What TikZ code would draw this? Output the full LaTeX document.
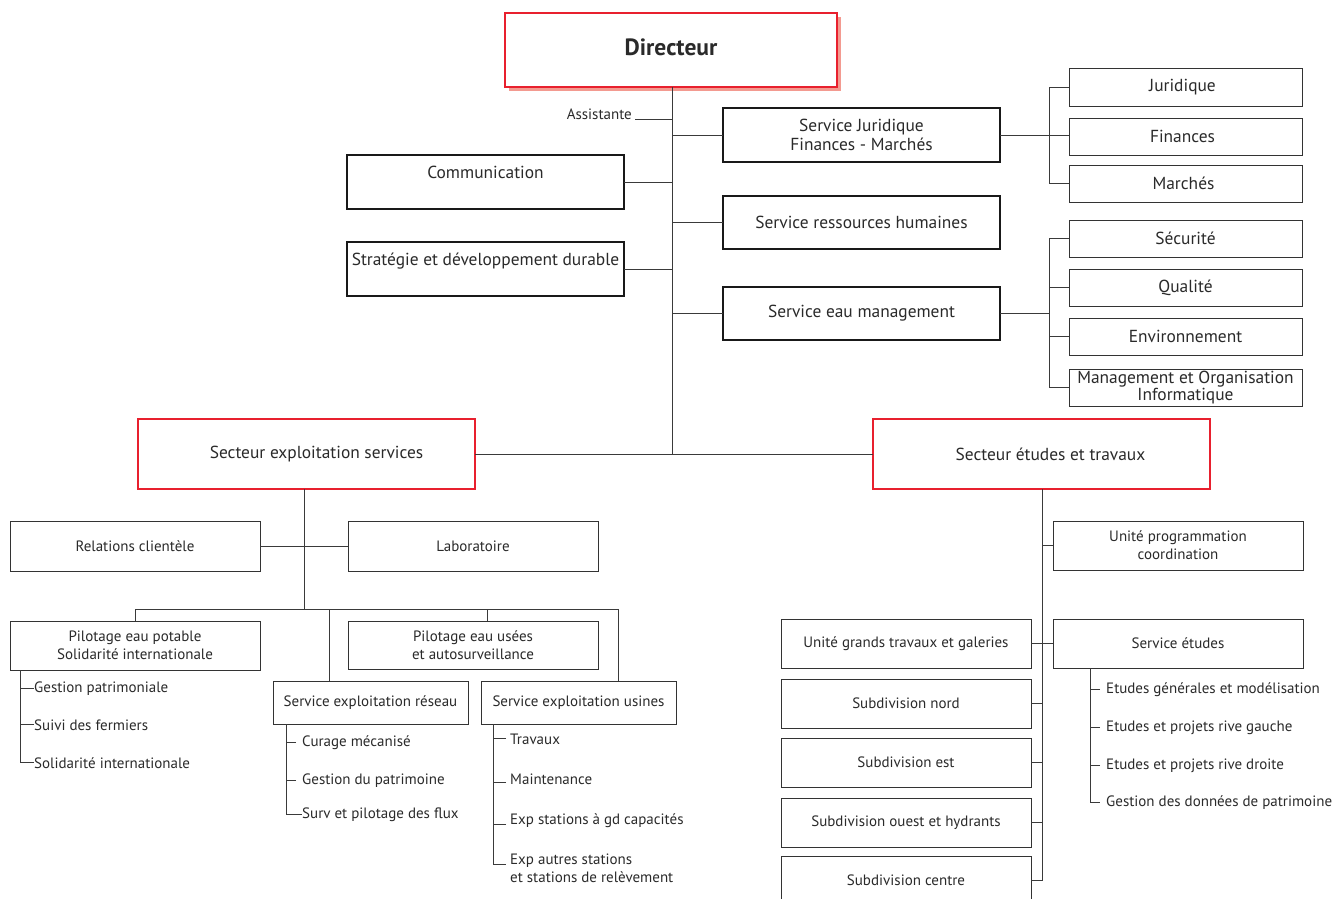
\documentclass[tikz,border=0pt]{standalone}
\usepackage{fontspec}
\setmainfont{PT Sans}
\usetikzlibrary{shadows}
\definecolor{redc}{HTML}{E8202E}
\definecolor{shc}{HTML}{F39A90}
\definecolor{txt}{HTML}{2A2A2A}
\definecolor{linec}{HTML}{3A3A3A}
\newcommand{\fA}{\fontsize{17.4}{19}\selectfont}
\newcommand{\fB}{\fontsize{15}{18}\selectfont}
\newcommand{\fD}{\fontsize{23.5}{26}\selectfont\bfseries}
\tikzset{
  base/.style={inner sep=0pt, outer sep=0pt, align=center, text=txt, fill=white},
  bigbox/.style={base, draw=black!90, line width=1.8pt, font=\fA},
  smallbox/.style={base, draw=black!80, line width=1pt, font=\fB},
  rightbox/.style={base, draw=black!80, line width=1pt, font=\fA},
  redbox/.style={base, draw=redc, line width=1.8pt, font=\fA},
  conn/.style={draw=linec, line width=1pt},
  item/.style={inner sep=0pt, anchor=base west, text=txt, font=\fB, align=left},
}
\begin{document}
\begin{tikzpicture}[x=1pt,y=-1pt]
\useasboundingbox (0,0) rectangle (1334,899);
\clip (0,0) rectangle (1334,899);
% ---- top
\node[redbox, minimum width=332, minimum height=74, font=\fD, text depth=6pt,
  drop shadow={shadow xshift=4pt, shadow yshift=-4pt, fill=shc, opacity=1}] (dir) at (671,50) {Directeur};
\node[item, anchor=base east] (asst) at (632,119) {Assistante};
\node[bigbox, minimum width=277, minimum height=54] (sj) at (861.5,135) {Service Juridique\\Finances - Marchés};
\node[bigbox, minimum width=277, minimum height=54, text height=23pt, text depth=31pt] (com) at (485.5,182) {Communication};
\node[bigbox, minimum width=277, minimum height=54, text height=23pt, text depth=31pt] (sg) at (485.5,269) {Stratégie et développement durable};
\node[bigbox, minimum width=277, minimum height=53] (rh) at (861.5,222.5) {Service ressources humaines};
\node[bigbox, minimum width=277, minimum height=53] (em) at (861.5,313.5) {Service eau management};
% right column
\node[rightbox, minimum width=233, minimum height=37] (jur) at (1185.5,87.5) {\hspace*{-6pt}Juridique};
\node[rightbox, minimum width=233, minimum height=37] (fin) at (1185.5,136.5) {\hspace*{-6pt}Finances};
\node[rightbox, minimum width=233, minimum height=37] (mar) at (1185.5,183.5) {\hspace*{-4pt}Marchés};
\node[rightbox, minimum width=233, minimum height=37] (sec) at (1185.5,238.5) {Sécurité};
\node[rightbox, minimum width=233, minimum height=37] (qua) at (1185.5,287.5) {Qualité};
\node[rightbox, minimum width=233, minimum height=37] (env) at (1185.5,336.5) {Environnement};
\node[rightbox, minimum width=233, minimum height=37, font=\fontsize{17.4}{16.5}\selectfont] (mgt) at (1185.5,387.5) {Management et Organisation\\Informatique};
% sectors
\node[redbox, minimum width=337, minimum height=70] (ses) at (306.5,454) {\hspace*{20pt}Secteur exploitation services};
\node[redbox, minimum width=337, minimum height=70] (set) at (1041.5,454) {\hspace*{18pt}Secteur études et travaux};
% left sector
\node[smallbox, minimum width=250, minimum height=50] (rc) at (135,546) {Relations clientèle};
\node[smallbox, minimum width=250, minimum height=50] (lab) at (473,546) {Laboratoire};
\node[smallbox, minimum width=250, minimum height=49] (pep) at (135,645.5) {Pilotage eau potable\\Solidarité internationale};
\node[smallbox, minimum width=250, minimum height=48] (peu) at (473,645) {Pilotage eau usées\\et autosurveillance};
\node[smallbox, minimum width=195, minimum height=43] (ser) at (370.5,702.5) {Service exploitation réseau};
\node[smallbox, minimum width=195, minimum height=43] (seu) at (578.5,702.5) {Service exploitation usines};
% items
\node[item] (i1) at (34,692) {Gestion patrimoniale};
\node[item] (i2) at (34,730) {Suivi des fermiers};
\node[item] (i3) at (34,768) {Solidarité internationale};
\node[item] (r1) at (302,746) {Curage mécanisé};
\node[item] (r2) at (302,784) {Gestion du patrimoine};
\node[item] (r3) at (302,818) {Surv et pilotage des flux};
\node[item] (u1) at (510,744) {Travaux};
\node[item] (u2) at (510,784) {Maintenance};
\node[item] (u3) at (510,824) {Exp stations à gd capacités};
\node[item] (u4) at (510,882) {Exp autres stations\\et stations de relèvement};
% right sector
\node[smallbox, minimum width=250, minimum height=49] (upc) at (1178,545.5) {Unité programmation\\coordination};
\node[smallbox, minimum width=250, minimum height=49] (ugt) at (906,643.5) {Unité grands travaux et galeries};
\node[smallbox, minimum width=250, minimum height=49] (se) at (1178,643.5) {Service études};
\node[smallbox, minimum width=250, minimum height=49] (sn) at (906,703.5) {Subdivision nord};
\node[smallbox, minimum width=250, minimum height=49] (sest) at (906,762.5) {Subdivision est};
\node[smallbox, minimum width=250, minimum height=49] (so) at (906,822.5) {Subdivision ouest et hydrants};
\node[smallbox, minimum width=250, minimum height=49] (sc) at (906,880.5) {Subdivision centre};
\node[item] (e1) at (1106,693) {Etudes générales et modélisation};
\node[item] (e2) at (1106,731) {Etudes et projets rive gauche};
\node[item] (e3) at (1106,769) {Etudes et projets rive droite};
\node[item] (e4) at (1106,806) {Gestion des données de patrimoine};
% ---- coordinates
\coordinate (mx) at (672,0);
\coordinate (bx) at (1049,0);
\coordinate (lx) at (304,0);
\coordinate (bus) at (0,609);
\coordinate (d1) at (329,0);
\coordinate (d2) at (487,0);
\coordinate (d3) at (618,0);
\coordinate (px) at (20,0);
\coordinate (rx) at (286,0);
\coordinate (ux) at (493,0);
\coordinate (tx) at (1042,0);
\coordinate (ex) at (1090,0);
% ---- connectors
\draw[conn] (dir.south -| mx) -- (ses.east -| mx);
\draw[conn] ([xshift=3pt]asst.base east) -- (asst.base east -| mx);
\draw[conn] (sj.west) -- (sj.west -| mx);
\draw[conn] (com.east) -- (com.east -| mx);
\draw[conn] (sg.east) -- (sg.east -| mx);
\draw[conn] (rh.west) -- (rh.west -| mx);
\draw[conn] (em.west) -- (em.west -| mx);
\draw[conn] (ses.east) -- (set.west);
\draw[conn] (sj.east) -- (sj.east -| fin.west);
\draw[conn] (jur.west) -- (jur.west -| bx) -- (mar.west -| bx) -- (mar.west);
\draw[conn] (em.east) -- (em.east -| bx);
\draw[conn] (sec.west) -- (sec.west -| bx) -- (mgt.west -| bx) -- (mgt.west);
\draw[conn] (qua.west) -- (qua.west -| bx);
\draw[conn] (env.west) -- (env.west -| bx);
% left sector
\draw[conn] (ses.south -| lx) -- (bus -| lx);
\draw[conn] (rc.east) -- (lab.west);
\draw[conn] (pep.north) -- (pep.north |- bus) -- (bus -| d3) -- (seu.north -| d3);
\draw[conn] (bus -| d1) -- (ser.north -| d1);
\draw[conn] (bus -| d2) -- (peu.north -| d2);
\draw[conn] (pep.south -| px) -- (i3.west -| px) -- (i3.west);
\draw[conn] (i1.west -| px) -- (i1.west);
\draw[conn] (i2.west -| px) -- (i2.west);
\draw[conn] (ser.south -| rx) -- (r3.west -| rx) -- (r3.west);
\draw[conn] ([xshift=-6pt]r1.west) -- (r1.west -| rx);
\draw[conn] ([xshift=-6pt]r2.west) -- (r2.west -| rx);
\draw[conn] (seu.south -| ux) -- ([yshift=-11pt]u4.north west -| ux) -- ([xshift=-4pt,yshift=-11pt]u4.north west);
\draw[conn] ([xshift=-4pt]u1.west) -- (u1.west -| ux);
\draw[conn] ([xshift=-4pt,yshift=-4pt]u2.west) -- ([yshift=-4pt]u2.west -| ux);
\draw[conn] ([xshift=-4pt,yshift=-4pt]u3.west) -- ([yshift=-4pt]u3.west -| ux);
% right sector
\draw[conn] (set.south -| tx) -- (sc.east -| tx) -- (sc.east);
\draw[conn] (upc.west) -- (upc.west -| tx);
\draw[conn] (ugt.east) -- (se.west);
\draw[conn] (sn.east) -- (sn.east -| tx);
\draw[conn] (sest.east) -- (sest.east -| tx);
\draw[conn] (so.east) -- (so.east -| tx);
\draw[conn] (se.south -| ex) -- (e4.west -| ex) -- ([xshift=-6pt]e4.west);
\draw[conn] ([xshift=-6pt]e1.west) -- (e1.west -| ex);
\draw[conn] ([xshift=-6pt]e2.west) -- (e2.west -| ex);
\draw[conn] ([xshift=-6pt]e3.west) -- (e3.west -| ex);
\end{tikzpicture}
\end{document}
